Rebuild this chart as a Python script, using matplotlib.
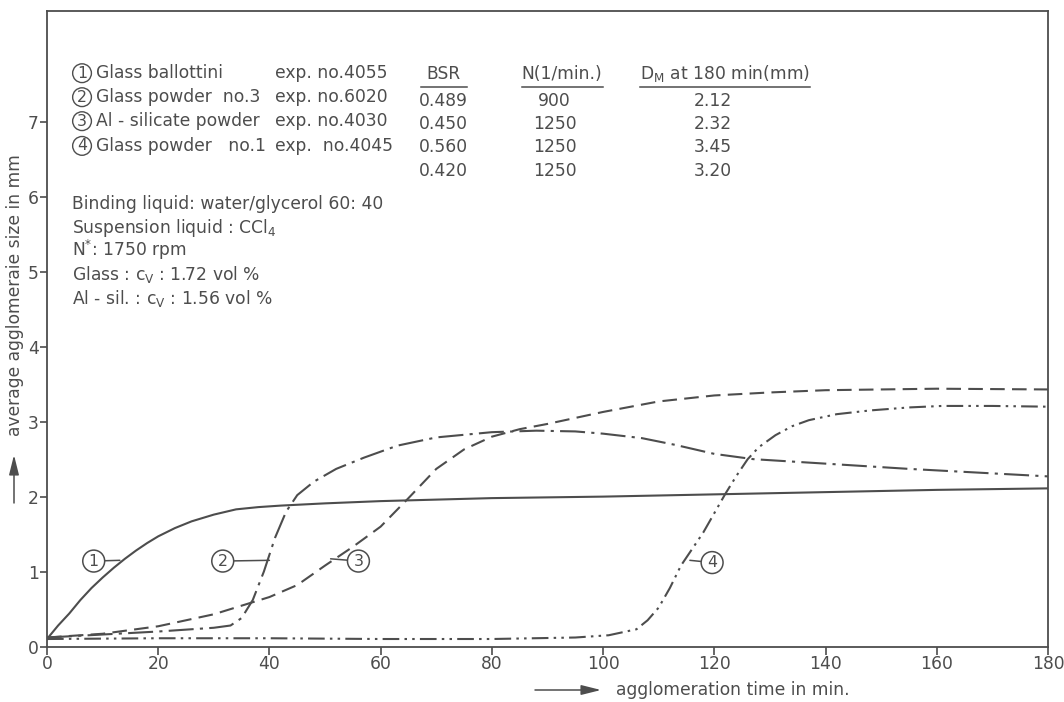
import matplotlib.pyplot as plt
from matplotlib.patches import FancyArrowPatch

# curve 1: glass ballottini (solid)
t1 = [0, 2, 4, 6, 8, 10, 12, 14, 16, 18, 20, 23, 26, 30, 34, 38, 42, 50, 60, 80, 100, 120, 140, 160, 180]
d1 = [0.10, 0.28, 0.44, 0.62, 0.78, 0.92, 1.05, 1.17, 1.28, 1.38, 1.47, 1.58, 1.67, 1.76, 1.83, 1.86,
      1.88, 1.91, 1.94, 1.98, 2.00, 2.03, 2.06, 2.09, 2.11]

# curve 2: glass powder no.3 (dash-dot)
t2 = [0, 10, 20, 30, 33, 35, 37, 39, 41, 43, 45, 48, 52, 57, 63, 70, 80, 88, 95, 100, 107, 113,
      120, 127, 140, 155, 170, 180]
d2 = [0.12, 0.16, 0.20, 0.25, 0.28, 0.38, 0.62, 1.00, 1.45, 1.80, 2.02, 2.20, 2.37, 2.52, 2.68,
      2.79, 2.86, 2.88, 2.87, 2.84, 2.78, 2.69, 2.57, 2.50, 2.44, 2.37, 2.31, 2.27]

# curve 3: Al-silicate powder (dashed)
t3 = [0, 10, 20, 30, 40, 45, 50, 55, 60, 65, 70, 75, 80, 85, 90, 100, 110, 120, 130, 140, 160, 180]
d3 = [0.12, 0.17, 0.27, 0.43, 0.66, 0.82, 1.08, 1.33, 1.60, 1.98, 2.37, 2.63, 2.80, 2.90, 2.97,
      3.13, 3.27, 3.35, 3.39, 3.42, 3.44, 3.43]

# curve 4: glass powder no.1 (dash-dot-dot)
t4 = [0, 20, 40, 60, 80, 95, 101, 106, 108, 110, 112, 114, 116, 118, 120, 122, 124, 126, 128,
      131, 134, 137, 142, 148, 155, 161, 170, 180]
d4 = [0.10, 0.11, 0.11, 0.10, 0.10, 0.12, 0.15, 0.23, 0.35, 0.52, 0.78, 1.08, 1.30, 1.52, 1.78,
      2.04, 2.28, 2.50, 2.66, 2.82, 2.94, 3.02, 3.10, 3.15, 3.19, 3.21, 3.21, 3.20]

names = ['Glass ballottini', 'Glass powder  no.3', 'Al - silicate powder', 'Glass powder   no.1']
exps = ['exp. no.4055', 'exp. no.6020', 'exp. no.4030', 'exp.  no.4045']
bsr = ['0.489', '0.450', '0.560', '0.420']
rpm = ['900', '1250', '1250', '1250']
dm = ['2.12', '2.32', '3.45', '3.20']

notes = ['Binding liquid: water/glycerol 60: 40',
         'Suspension liquid : CCl$_4$',
         'N$^{*}$: 1750 rpm',
         'Glass : c$_V$ : 1.72 vol %',
         'Al - sil. : c$_V$ : 1.56 vol %']

plt.rcParams['font.family'] = 'DejaVu Sans'
plt.rcParams['mathtext.default'] = 'regular'
ink = '#4d4d4d'
fs = 12.3

fig = plt.figure(figsize=(10.64, 7.02), dpi=100)
ax = fig.add_axes([47/1064, 55.5/702, 1001/1064, 635.5/702])

lw = 1.5
ax.plot(t1, d1, color=ink, lw=lw)
ax.plot(t2, d2, color=ink, lw=lw, ls=(0, (12, 3, 1.5, 3)))
ax.plot(t3, d3, color=ink, lw=lw, ls=(0, (7, 3.5)))
ax.plot(t4, d4, color=ink, lw=lw, ls=(0, (8, 2.5, 1.2, 2.5, 1.2, 2.5)))

ax.set_xlim(0, 180)
ax.set_ylim(0, 8.48)
ax.set_xticks(range(0, 181, 20))
ax.set_yticks(range(0, 8))
for s in ax.spines.values():
    s.set_color(ink)
    s.set_linewidth(1.3)
ax.tick_params(axis='y', direction='out', length=5, width=1.2, pad=1, labelsize=fs, colors=ink)
ax.tick_params(axis='x', direction='out', length=6, width=1.2, pad=0, labelsize=fs, colors=ink)

# curve labels with leader lines
circ = dict(boxstyle='circle,pad=0.22', fc='white', ec=ink, lw=1.1)
lead = dict(arrowstyle='-', color=ink, lw=1.1, shrinkA=0, shrinkB=0)
for num, xy, xt in [('1', (13.1, 1.15), (8.4, 1.14)),
                    ('2', (40.0, 1.15), (31.6, 1.14)),
                    ('3', (51.0, 1.17), (56.0, 1.14)),
                    ('4', (115.6, 1.15), (119.6, 1.12))]:
    ax.annotate(num, xy=xy, xytext=xt, ha='center', va='center', fontsize=fs - 1,
                color=ink, bbox=circ, arrowprops=lead)

# legend table
row_y = [7.65, 7.33, 7.01, 6.68]
val_y = [7.28, 6.97, 6.66, 6.35]
for i in range(4):
    ax.text(6.3, row_y[i], str(i + 1), ha='center', va='center', fontsize=fs - 1, color=ink,
            bbox=dict(boxstyle='circle,pad=0.12', fc='white', ec=ink, lw=1.0))
    ax.text(8.9, row_y[i], names[i], ha='left', va='center', fontsize=fs, color=ink)
    ax.text(41.0, row_y[i], exps[i], ha='left', va='center', fontsize=fs, color=ink)
    ax.text(71.2, val_y[i], bsr[i], ha='center', va='center', fontsize=fs, color=ink)
    ax.text(91.3, val_y[i], rpm[i], ha='center', va='center', fontsize=fs, color=ink)
    ax.text(119.8, val_y[i], dm[i], ha='center', va='center', fontsize=fs, color=ink)

ax.text(71.2, 7.64, 'BSR', ha='center', va='center', fontsize=fs, color=ink)
ax.text(92.6, 7.64, 'N(1/min.)', ha='center', va='center', fontsize=fs, color=ink)
ax.text(106.6, 7.64, 'D$_M$ at 180 min(mm)', ha='left', va='center', fontsize=fs, color=ink)
for x0, x1 in [(67.3, 75.6), (85.4, 100.0), (106.6, 137.2)]:
    ax.plot([x0, x1], [7.47, 7.47], color=ink, lw=1.1)

note_y = [5.905, 5.585, 5.29, 4.97, 4.65]
for y, s in zip(note_y, notes):
    ax.text(4.5, y, s, ha='left', va='center', fontsize=fs, color=ink)

# axis titles with arrows
fig.text(15/1064, 1 - 295/702, 'average agglomeraie size in mm', rotation=90,
         ha='center', va='center', fontsize=fs, color=ink)
fig.text(733/1064, 1 - 690/702, 'agglomeration time in min.', ha='center', va='center',
         fontsize=fs, color=ink)
arr = dict(arrowstyle='-|>,head_length=1.0,head_width=0.25', color=ink, lw=1.1,
           shrinkA=0, shrinkB=0, mutation_scale=12)
fig.add_artist(FancyArrowPatch((14/1064, 1 - 503/702), (14/1064, 1 - 455/702),
                               transform=fig.transFigure, **arr))
fig.add_artist(FancyArrowPatch((535/1064, 1 - 690/702), (601/1064, 1 - 690/702),
                               transform=fig.transFigure, **arr))

fig.savefig('out.png', dpi=100)
